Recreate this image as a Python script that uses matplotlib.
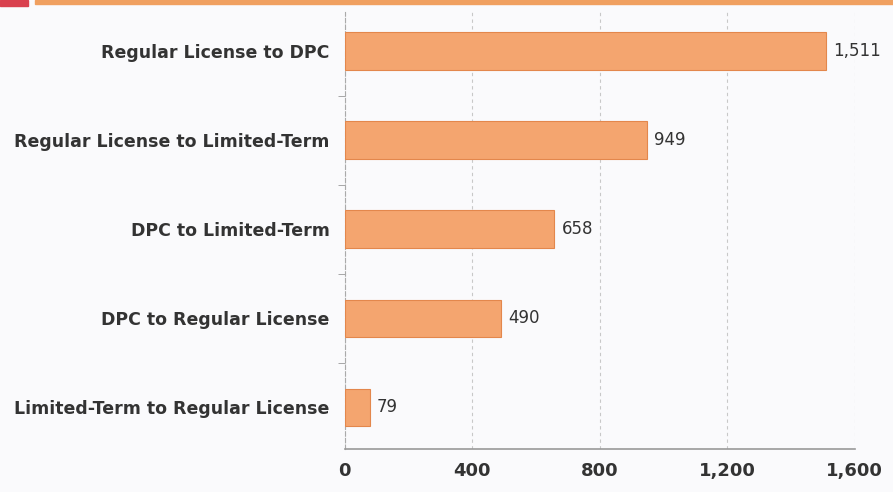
import matplotlib.pyplot as plt
import matplotlib.patches as patches
from matplotlib.ticker import FuncFormatter, MultipleLocator

# data (bottom to top)
categories = [
    "Limited-Term to Regular License",
    "DPC to Regular License",
    "DPC to Limited-Term",
    "Regular License to Limited-Term",
    "Regular License to DPC",
]
counts = [79, 490, 658, 949, 1511]
x_ticks = [0, 400, 800, 1200, 1600]

bar_color = "#F4A56F"
edge_color = "#E3874C"
text_color = "#333333"

fig = plt.figure(figsize=(8.93, 4.92), dpi=100)
fig.patch.set_facecolor("#FAFAFC")

# header strip cut off at the top of the picture
fig.patches.append(patches.Rectangle((0, 0.988), 0.031, 0.012, transform=fig.transFigure,
                                     color="#D9404E", zorder=0))
fig.patches.append(patches.Rectangle((0.039, 0.991), 0.961, 0.009, transform=fig.transFigure,
                                     color="#F0A060", zorder=0))

ax = fig.add_axes([0.386, 0.087, 0.571, 0.889])
ax.set_facecolor("none")

ypos = list(range(len(categories)))
ax.barh(ypos, counts, height=0.42, color=bar_color, edgecolor=edge_color, linewidth=0.8, zorder=3)

for y, v in zip(ypos, counts):
    ax.text(v + 22, y, f"{v:,}", va="center", ha="left", fontsize=12,
            color=text_color, family="DejaVu Sans")

ax.set_xlim(0, 1600)
ax.set_ylim(-0.47, 4.44)
ax.set_xticks(x_ticks)
ax.xaxis.set_major_formatter(FuncFormatter(lambda v, p: f"{int(v):,}"))
ax.tick_params(axis="x", length=0, pad=9, labelsize=13, labelcolor=text_color)
for lab in ax.get_xticklabels():
    lab.set_fontweight("bold")

ax.set_yticks(ypos)
ax.set_yticklabels(categories, fontsize=12.5, fontweight="bold", color=text_color)
ax.tick_params(axis="y", which="major", length=0, pad=11)
ax.yaxis.set_minor_locator(MultipleLocator(1, offset=0.5))
ax.tick_params(axis="y", which="minor", length=5, color="#999999", direction="out")

ax.grid(True, axis="x", linestyle=(0, (3, 3)), color="#C8C8C8", linewidth=0.8, zorder=0)

for s in ["top", "right"]:
    ax.spines[s].set_visible(False)
ax.spines["left"].set_color("#AAAAAA")
ax.spines["left"].set_linestyle((0, (4, 2)))
ax.spines["bottom"].set_color("#999999")
ax.spines["bottom"].set_linewidth(1.2)

fig.savefig("out.png", dpi=100, facecolor=fig.get_facecolor())
